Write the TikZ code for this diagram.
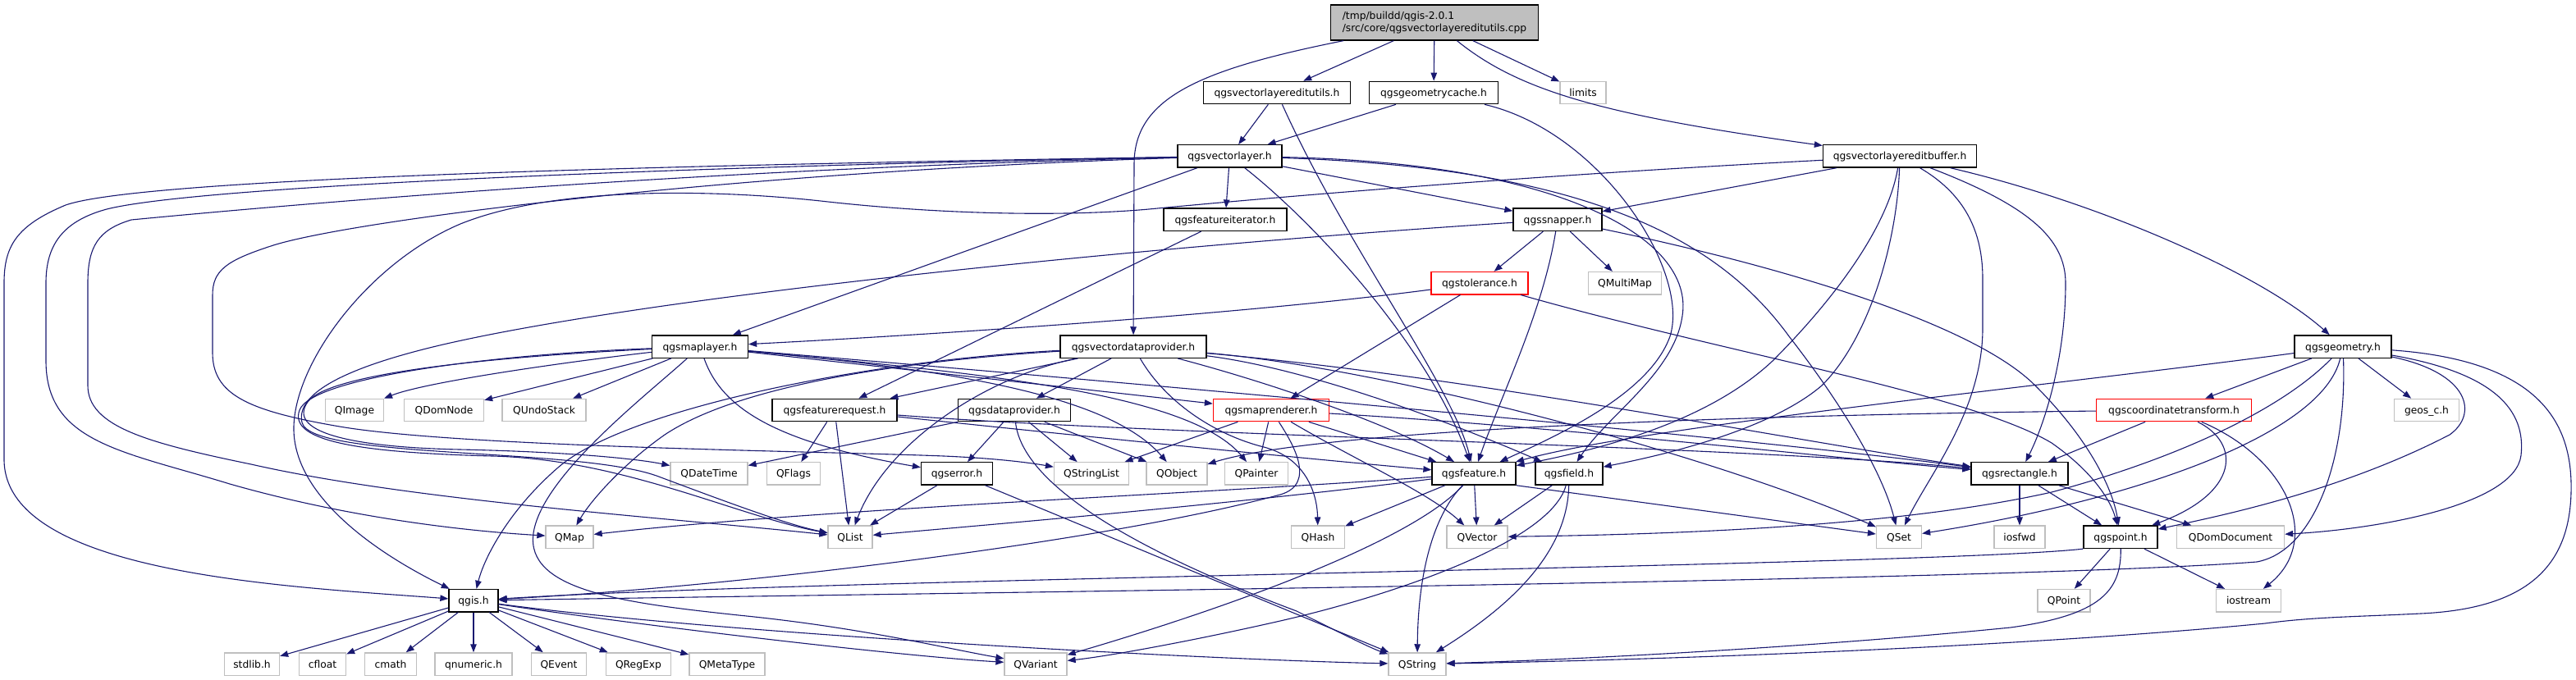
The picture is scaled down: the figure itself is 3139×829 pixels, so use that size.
\documentclass[tikz,border=0pt]{standalone}
\usepackage{fontspec}
\setmainfont{DejaVu Sans}
\usetikzlibrary{arrows.meta}
\definecolor{edgec}{HTML}{191970}
\definecolor{grayb}{HTML}{BFBFBF}
\definecolor{rootf}{HTML}{BFBFBF}
\begin{document}
\begin{tikzpicture}[x=1pt,y=-1pt,
 nd/.style={rectangle, minimum height=27.4pt, inner sep=0pt, text height=10.5pt, text depth=1.5pt, font=\fontsize{12.3}{15}\selectfont, text=black},
 blk/.style={nd, draw=black, line width=1.3pt},
 gry/.style={nd, draw=grayb, line width=1.3pt},
 redb/.style={nd, draw=red, line width=1.3pt},
 edg/.style={draw=edgec, line width=1.1pt, -{Triangle[length=10pt,width=7.5pt]}},
]
\useasboundingbox (0,0) rectangle (3139,829);
% ---------- nodes ----------
\node[draw=black, line width=1.3pt, fill=rootf, minimum width=253pt, minimum height=43pt, inner sep=0pt, align=left, font=\fontsize{12.3}{15}\selectfont] (root) at (1748,27.5) {/tmp/buildd/qgis-2.0.1\\/src/core/qgsvectorlayereditutils.cpp};
\node[blk, minimum width=179pt] (editutils) at (1556,113) {qgsvectorlayereditutils.h};
\node[blk, minimum width=157pt] (geomcache) at (1747,113) {qgsgeometrycache.h};
\node[gry, minimum width=56pt] (limits) at (1929,113) {limits};
\node[blk, minimum width=127pt] (vlayer) at (1498.5,190.4) {qgsvectorlayer.h};
\node[blk, minimum width=187pt] (ebuf) at (2315,190.4) {qgsvectorlayereditbuffer.h};
\node[blk, minimum width=150pt] (featit) at (1493,267.8) {qgsfeatureiterator.h};
\node[blk, minimum width=108pt] (snapper) at (1898,267.8) {qgssnapper.h};
\node[redb, minimum width=118pt] (tol) at (1803,345.2) {qgstolerance.h};
\node[gry, minimum width=89pt] (qmultimap) at (1980,345.2) {QMultiMap};
\node[blk, minimum width=117pt] (maplayer) at (853,422.6) {qgsmaplayer.h};
\node[blk, minimum width=178pt] (vdp) at (1381,422.6) {qgsvectordataprovider.h};
\node[blk, minimum width=118pt] (geom) at (2855,422.6) {qgsgeometry.h};
\node[gry, minimum width=71pt] (qimage) at (432,500) {QImage};
\node[gry, minimum width=97pt] (qdomnode) at (541,500) {QDomNode};
\node[gry, minimum width=102pt] (qundo) at (663,500) {QUndoStack};
\node[blk, minimum width=152pt] (freq) at (1017,500) {qgsfeaturerequest.h};
\node[blk, minimum width=137pt] (dprov) at (1236,500) {qgsdataprovider.h};
\node[redb, minimum width=141pt] (mrend) at (1549,500) {qgsmaprenderer.h};
\node[redb, minimum width=189pt] (ctr) at (2649,500) {qgscoordinatetransform.h};
\node[gry, minimum width=79pt] (geosc) at (2957,500) {geos\_c.h};
\node[gry, minimum width=94pt] (qdatetime) at (864,577.4) {QDateTime};
\node[gry, minimum width=65pt] (qflags) at (967,577.4) {QFlags};
\node[blk, minimum width=87pt] (qgserror) at (1166,577.4) {qgserror.h};
\node[gry, minimum width=91pt] (qstringlist) at (1330,577.4) {QStringList};
\node[gry, minimum width=74pt] (qobject) at (1434,577.4) {QObject};
\node[gry, minimum width=77pt] (qpainter) at (1531,577.4) {QPainter};
\node[blk, minimum width=102pt] (feature) at (1796,577.4) {qgsfeature.h};
\node[blk, minimum width=82pt] (field) at (1912,577.4) {qgsfield.h};
\node[blk, minimum width=118pt] (rect) at (2461,577.4) {qgsrectangle.h};
\node[gry, minimum width=58pt] (qmap) at (694,654.8) {QMap};
\node[gry, minimum width=54pt] (qlist) at (1036,654.8) {QList};
\node[gry, minimum width=65pt] (qhash) at (1606,654.8) {QHash};
\node[gry, minimum width=74pt] (qvector) at (1800,654.8) {QVector};
\node[gry, minimum width=55pt] (qset) at (2314,654.8) {QSet};
\node[gry, minimum width=62pt] (iosfwd) at (2461,654.8) {iosfwd};
\node[blk, minimum width=90pt] (qgspoint) at (2584,654.8) {qgspoint.h};
\node[gry, minimum width=131pt] (qdomdoc) at (2718,654.8) {QDomDocument};
\node[blk, minimum width=60pt] (qgis) at (577,732.2) {qgis.h};
\node[gry, minimum width=64pt] (qpoint) at (2515,732.2) {QPoint};
\node[gry, minimum width=79pt] (iostream) at (2740,732.2) {iostream};
\node[gry, minimum width=67pt] (stdlib) at (307,809.6) {stdlib.h};
\node[gry, minimum width=57pt] (cfloat) at (393,809.6) {cfloat};
\node[gry, minimum width=63pt] (cmath) at (476,809.6) {cmath};
\node[gry, minimum width=94pt] (qnumeric) at (577,809.6) {qnumeric.h};
\node[gry, minimum width=67pt] (qevent) at (681,809.6) {QEvent};
\node[gry, minimum width=79pt] (qregexp) at (778,809.6) {QRegExp};
\node[gry, minimum width=92pt] (qmetatype) at (886,809.6) {QMetaType};
\node[gry, minimum width=76pt] (qvariant) at (1262,809.6) {QVariant};
\node[gry, minimum width=70pt] (qstring) at (1727,809.6) {QString};
% ---------- edges ----------
% root
\draw[edg] (root) -- (editutils);
\draw[edg] (root) -- (geomcache);
\draw[edg] (root) -- (limits);
\draw[edg] (root) .. controls (1850,110) and (1950,140) .. (ebuf);
\draw[edg] (root) .. controls (1460,85) and (1382,120) .. (1382,200) -- (vdp);
% editutils
\draw[edg] (editutils) -- (vlayer);
\draw[edg] (editutils) .. controls (1640,300) and (1770,470) .. (feature);
% geomcache
\draw[edg] (geomcache) -- (vlayer);
\draw[edg] (geomcache) .. controls (1950,160) and (2060,330) .. (2035,410) .. controls (2010,480) and (1900,530) .. (feature);
% vlayer
\draw[edg] (vlayer) -- (maplayer);
\draw[edg] (vlayer) -- (featit);
\draw[edg] (vlayer) .. controls (1600,270) and (1740,420) .. (feature);
\draw[edg] (vlayer) -- (snapper);
\draw[edg] (vlayer) .. controls (1900,198) and (2065,290) .. (2050,385) .. controls (2040,455) and (1960,505) .. (field);
\draw[edg] (vlayer) .. controls (1950,205) and (2100,300) .. (2180,410) .. controls (2250,500) and (2295,580) .. (qset);
\draw[edg] (vlayer) .. controls (900,200) and (180,215) .. (80,250) .. controls (20,275) and (5,300) .. (5,345) -- (5,560) .. controls (5,700) and (350,715) .. (qgis);
\draw[edg] (vlayer) .. controls (880,202) and (250,225) .. (130,255) .. controls (75,270) and (56,300) .. (56,345) -- (56,440) .. controls (56,540) and (150,550) .. (280,590) .. controls (420,630) and (560,647) .. (qmap);
\draw[edg] (vlayer) .. controls (880,205) and (400,245) .. (160,268) .. controls (120,280) and (107,300) .. (107,345) -- (107,470) .. controls (107,520) and (180,540) .. (306,566) .. controls (500,610) and (800,630) .. (qlist);
\draw[edg] (vlayer) .. controls (880,210) and (420,270) .. (330,300) .. controls (275,318) and (259,330) .. (259,360) -- (259,430) .. controls (259,480) and (300,500) .. (408,519) .. controls (550,545) and (1000,550) .. (1150,556) .. controls (1220,559) and (1260,565) .. (qstringlist);
% editbuffer
\draw[edg] (ebuf) -- (snapper);
\draw[edg] (ebuf) .. controls (1900,212) and (1600,236) .. (1400,255) .. controls (1300,264) and (1150,262) .. (1000,245) .. controls (880,232) and (680,225) .. (561,273) .. controls (450,320) and (360,440) .. (358,520) .. controls (356,600) and (450,670) .. (qgis);
\draw[edg] (ebuf) .. controls (2300,280) and (2230,370) .. (2160,440) .. controls (2080,515) and (1950,548) .. (feature);
\draw[edg] (ebuf) .. controls (2312,290) and (2280,410) .. (2220,470) .. controls (2150,530) and (2000,560) .. (field);
\draw[edg] (ebuf) .. controls (2400,240) and (2416,290) .. (2416,340) -- (2416,400) .. controls (2416,500) and (2350,580) .. (qset);
\draw[edg] (ebuf) .. controls (2470,250) and (2517,290) .. (2517,345) .. controls (2517,440) and (2490,520) .. (rect);
\draw[edg] (ebuf) .. controls (2550,245) and (2750,330) .. (geom);
% featureiterator
\draw[edg] (featit) -- (freq);
% snapper
\draw[edg] (snapper) -- (tol);
\draw[edg] (snapper) -- (qmultimap);
\draw[edg] (snapper) .. controls (1880,380) and (1830,480) .. (feature);
\draw[edg] (snapper) .. controls (2150,320) and (2400,390) .. (2480,470) .. controls (2550,540) and (2575,600) .. (qgspoint);
\draw[edg] (snapper) .. controls (1400,300) and (800,360) .. (540,420) .. controls (420,448) and (360,480) .. (368,515) .. controls (378,560) and (700,545) .. (800,580) .. controls (880,610) and (960,640) .. (qlist);
% tolerance
\draw[edg] (tol) .. controls (1500,385) and (1100,410) .. (maplayer);
\draw[edg] (tol) -- (mrend);
\draw[edg] (tol) .. controls (2100,430) and (2400,480) .. (2500,540) .. controls (2550,575) and (2572,610) .. (qgspoint);
% vectordataprovider
\draw[edg] (vdp) -- (dprov);
\draw[edg] (vdp) -- (freq);
\draw[edg] (vdp) .. controls (1200,460) and (1080,540) .. (qlist);
\draw[edg] (vdp) .. controls (1100,440) and (900,470) .. (810,530) .. controls (760,565) and (720,610) .. (qmap);
\draw[edg] (vdp) .. controls (1050,440) and (760,500) .. (680,570) .. controls (620,622) and (590,680) .. (qgis);
\draw[edg] (vdp) .. controls (1420,490) and (1480,530) .. (1540,545) .. controls (1590,558) and (1605,600) .. (qhash);
\draw[edg] (vdp) .. controls (1560,470) and (1700,520) .. (feature);
\draw[edg] (vdp) .. controls (1600,450) and (1780,520) .. (field);
\draw[edg] (vdp) .. controls (1800,460) and (2200,540) .. (rect);
\draw[edg] (vdp) .. controls (1700,450) and (2100,560) .. (qset);
% maplayer
\draw[edg] (maplayer) .. controls (700,440) and (520,465) .. (qimage);
\draw[edg] (maplayer) -- (qdomnode);
\draw[edg] (maplayer) -- (qundo);
\draw[edg] (maplayer) .. controls (600,435) and (400,455) .. (375,490) .. controls (350,525) and (420,545) .. (560,548) .. controls (700,551) and (780,560) .. (qdatetime);
\draw[edg] (maplayer) .. controls (600,432) and (380,460) .. (365,500) .. controls (350,540) and (450,552) .. (600,556) .. controls (760,560) and (900,630) .. (qlist);
\draw[edg] (maplayer) .. controls (880,500) and (950,540) .. (qgserror);
\draw[edg] (maplayer) .. controls (1150,450) and (1350,480) .. (qobject);
\draw[edg] (maplayer) .. controls (1200,455) and (1450,480) .. (qpainter);
\draw[edg] (maplayer) -- (mrend);
\draw[edg] (maplayer) .. controls (1300,460) and (2100,530) .. (rect);
\draw[edg] (maplayer) .. controls (790,480) and (660,580) .. (650,650) .. controls (640,720) and (760,735) .. (900,750) .. controls (1050,765) and (1150,790) .. (qvariant);
% featurerequest
\draw[edg] (freq) -- (qflags);
\draw[edg] (freq) -- (qlist);
\draw[edg] (freq) .. controls (1350,535) and (1600,560) .. (feature);
\draw[edg] (freq) .. controls (1400,530) and (2150,545) .. (rect);
% dataprovider
\draw[edg] (dprov) -- (qdatetime);
\draw[edg] (dprov) -- (qgserror);
\draw[edg] (dprov) -- (qstringlist);
\draw[edg] (dprov) -- (qobject);
\draw[edg] (dprov) .. controls (1245,590) and (1380,670) .. (1580,745) .. controls (1630,770) and (1670,790) .. (qstring);
% qgserror
\draw[edg] (qgserror) -- (qlist);
\draw[edg] (qgserror) -- (qstring);
% maprenderer
\draw[edg] (mrend) -- (qstringlist);
\draw[edg] (mrend) -- (qpainter);
\draw[edg] (mrend) .. controls (1650,560) and (1740,600) .. (qvector);
\draw[edg] (mrend) -- (feature);
\draw[edg] (mrend) .. controls (1575,540) and (1605,590) .. (1560,603) .. controls (1350,660) and (900,715) .. (qgis);
\draw[edg] (mrend) .. controls (1900,520) and (2250,560) .. (rect);
% feature
\draw[edg] (feature) .. controls (1500,600) and (1000,620) .. (qmap);
\draw[edg] (feature) .. controls (1500,615) and (1200,640) .. (qlist);
\draw[edg] (feature) -- (qhash);
\draw[edg] (feature) -- (qvector);
\draw[edg] (feature) .. controls (1750,625) and (1728,690) .. (qstring);
\draw[edg] (feature) .. controls (1720,660) and (1500,740) .. (qvariant);
\draw[edg] (feature.south east) -- (qset);
% field
\draw[edg] (field) -- (qvector);
\draw[edg] (field) .. controls (1890,660) and (1700,725) .. (1560,757) .. controls (1450,782) and (1350,800) .. (qvariant);
\draw[edg] (field) .. controls (1910,680) and (1830,745) .. (qstring);
% geometry
\draw[edg] (geom) -- (ctr);
\draw[edg] (geom) -- (geosc);
\draw[edg] (geom) .. controls (2500,470) and (2000,520) .. (feature);
\draw[edg] (geom) .. controls (2780,500) and (2650,560) .. (2500,600) .. controls (2300,645) and (2000,652) .. (qvector);
\draw[edg] (geom) .. controls (2830,530) and (2600,610) .. (qset);
\draw[edg] (geom) .. controls (2860,560) and (2820,672) .. (2750,685) .. controls (2450,708) and (1200,722) .. (qgis);
\draw[edg] (geom) .. controls (3010,455) and (3020,505) .. (2985,530) .. controls (2850,600) and (2700,630) .. (qgspoint);
\draw[edg] (geom) .. controls (3040,455) and (3078,500) .. (3072,555) .. controls (3065,615) and (2900,645) .. (qdomdoc);
\draw[edg] (geom) .. controls (3100,440) and (3135,520) .. (3133,600) .. controls (3131,690) and (3080,742) .. (2950,748) .. controls (2870,752) and (2820,752) .. (2760,760) .. controls (2450,790) and (2000,805) .. (qstring);
% coordinatetransform
\draw[edg] (ctr) .. controls (2200,505) and (1620,520) .. (qobject);
\draw[edg] (ctr) -- (rect);
\draw[edg] (ctr) .. controls (2730,540) and (2730,600) .. (qgspoint);
\draw[edg] (ctr) .. controls (2790,560) and (2830,660) .. (iostream);
% rectangle
\draw[edg] (rect) -- (iosfwd);
\draw[edg] (rect) -- (qgspoint);
\draw[edg] (rect) -- (qdomdoc);
% point
\draw[edg] (qgspoint) -- (qpoint);
\draw[edg] (qgspoint) -- (iostream);
\draw[edg] (qgspoint.south west) .. controls (2350,690) and (1000,705) .. (qgis);
\draw[edg] (qgspoint) .. controls (2585,720) and (2560,750) .. (2450,765) .. controls (2200,790) and (1900,805) .. (qstring);
% qgis
\draw[edg] (qgis) -- (stdlib);
\draw[edg] (qgis) -- (cfloat);
\draw[edg] (qgis) -- (cmath);
\draw[edg] (qgis) -- (qnumeric);
\draw[edg] (qgis) -- (qevent);
\draw[edg] (qgis) -- (qregexp);
\draw[edg] (qgis) -- (qmetatype);
\draw[edg] (qgis) .. controls (800,765) and (1100,800) .. (qvariant);
\draw[edg] (qgis) .. controls (900,775) and (1500,805) .. (qstring);
\end{tikzpicture}
\end{document}
